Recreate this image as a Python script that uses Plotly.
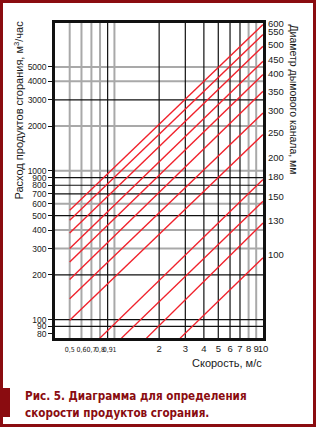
import plotly.graph_objects as go

# ---------------- data ----------------
# x axis (velocity, m/s)
x_small_vals = [0.5, 0.6, 0.7, 0.8, 0.9, 1]
x_small_text = ["0,5", "0,6", "0,7", "0,8", "0,9", "1"]
x_main_vals = [2, 3, 4, 5, 6, 7, 8, 9, 10]
x_main_text = ["2", "3", "4", "5", "6", "7", "8", "9", "10"]

# left y axis (flow of combustion products, m3/h)
y_tick_vals = [80, 90, 100, 200, 300, 400, 500, 600, 700, 800, 900,
               1000, 2000, 3000, 4000, 5000]

# grid lines
x_grid_black = [0.9, 2, 3, 4, 5, 6, 7]
x_grid_grey = [0.5, 0.6, 0.7, 0.8, 1, 8, 9]
y_grid_black = [90, 100, 200, 500, 700, 800, 900, 3000]
y_grid_grey = [300, 400, 600, 1000, 2000, 4000, 5000]

# diameter lines (mm): start (v0, q0) and end (v1, q1)
line_diam = [600, 550, 500, 450, 400, 350, 300, 250, 180, 150, 130, 100]
line_v0 = [0.5, 0.5, 0.5, 0.5, 0.5, 0.5, 0.5, 0.5, 0.797, 1.115, 1.643, 2.77]
line_q0 = [543, 465, 382, 301, 244, 186, 138, 99, 75, 75, 75, 75]
line_v1 = [10, 10, 10, 10, 10, 10, 10, 10, 10, 10, 10, 10]
line_q1 = [9636, 8254, 6887, 5458, 4442, 3430, 2449, 1754, 874, 625, 446, 260]

# right axis labels: chimney diameter, mm (placed at flow values)
diam_labels = [600, 550, 500, 450, 400, 350, 300, 250, 200, 180, 150, 130, 100]
diam_label_q = [9830, 8590, 7060, 5605, 4510, 3430, 2555, 1800, 1229, 920,
                667, 465, 271]

X_RANGE = [-0.4, 1.0]
Y_RANGE = [1.876, 3.994]
Y_MIN = 10 ** Y_RANGE[0]
Y_MAX = 10 ** Y_RANGE[1]
X_MIN = 10 ** X_RANGE[0]
X_MAX = 10 ** X_RANGE[1]

# ---------------- layout geometry ----------------
W, H = 316, 427
ML, MR, MT, MB = 55, 53, 23, 89
PW, PH = W - ML - MR, H - MT - MB


def px(x):
    return (x - ML) / PW


def py(y):
    return (H - MB - y) / PH


NARROW = "Liberation Sans Narrow, Arial Narrow, DejaVu Sans Condensed, sans-serif"
SANS = "Liberation Sans, Arial, sans-serif"
DARKRED = "#8a0c10"
GREY = "#a9a9a9"
BLACK = "#111111"
RED = "#f0222c"

fig = go.Figure()


def grid_trace(xs_v, ys_h, color, width):
    gx, gy = [], []
    for v in xs_v:
        gx += [v, v, None]
        gy += [Y_MIN, Y_MAX, None]
    for q in ys_h:
        gx += [X_MIN, X_MAX, None]
        gy += [q, q, None]
    return go.Scatter(x=gx, y=gy, mode="lines",
                      line=dict(color=color, width=width),
                      hoverinfo="skip", showlegend=False)


fig.add_trace(grid_trace(x_grid_grey, y_grid_grey, GREY, 2))
fig.add_trace(grid_trace(x_grid_black, y_grid_black, BLACK, 1.2))

for d, v0, q0, v1, q1 in zip(line_diam, line_v0, line_q0, line_v1, line_q1):
    fig.add_trace(go.Scatter(x=[v0, v1], y=[q0, q1], mode="lines",
                             line=dict(color=RED, width=1.4),
                             name=f"{d} мм", hoverinfo="skip",
                             showlegend=False))

# invisible trace to anchor right axis
fig.add_trace(go.Scatter(x=[1], y=[1000], yaxis="y2", mode="markers",
                         marker=dict(opacity=0, size=1), hoverinfo="skip",
                         showlegend=False))

x_tick_vals = x_small_vals + x_main_vals
x_tick_text = [f'<span style="font-family:{NARROW};font-size:7px">{t}</span>'
               for t in x_small_text] + x_main_text

fig.update_layout(
    width=W, height=H,
    margin=dict(l=ML, r=MR, t=MT, b=MB, pad=0),
    paper_bgcolor="white", plot_bgcolor="white",
    showlegend=False, hovermode=False,
    font=dict(family=SANS, color="#1a1a1a", size=9),
    xaxis=dict(type="log", range=X_RANGE, tickvals=x_tick_vals,
               ticktext=x_tick_text, tickangle=0, showgrid=False,
               zeroline=False, showline=True, mirror=True, linewidth=2.5,
               linecolor=BLACK, ticks="", tickfont=dict(size=9.5),
               ticklabelstandoff=0),
    yaxis=dict(type="log", range=Y_RANGE, tickvals=y_tick_vals,
               ticktext=[str(v) for v in y_tick_vals], showgrid=False,
               zeroline=False, showline=True, mirror=True, linewidth=2.5,
               linecolor=BLACK, ticks="outside", ticklen=4, tickwidth=1,
               tickcolor=BLACK, tickfont=dict(size=8.5)),
    yaxis2=dict(type="log", range=Y_RANGE, overlaying="y", side="right",
                tickvals=diam_label_q, ticktext=[str(v) for v in diam_labels],
                showgrid=False, zeroline=False, showline=False, ticks="",
                tickfont=dict(size=9.5), ticklabelstandoff=4),
)

annotations = [
    dict(text="Расход продуктов сгорания, м<sup>3</sup>/час", textangle=-90,
         x=px(18.5), y=py(110), xref="paper", yref="paper",
         xanchor="center", yanchor="middle", showarrow=False,
         font=dict(size=11, family=SANS, color="#1a1a1a")),
    dict(text="Диаметр дымового канала, мм", textangle=90,
         x=px(293.5), y=py(99), xref="paper", yref="paper",
         xanchor="center", yanchor="middle", showarrow=False,
         font=dict(size=10.5, family=SANS, color="#1a1a1a")),
    dict(text="Скорость, м/с", x=px(264), y=py(362.5), xref="paper",
         yref="paper", xanchor="right", yanchor="middle", showarrow=False,
         font=dict(size=11, family=SANS, color="#1a1a1a")),
    dict(text="<b>Рис. 5. Диаграмма для определения</b>", x=px(22.5),
         y=py(396), xref="paper", yref="paper", xanchor="left",
         yanchor="middle", showarrow=False,
         font=dict(size=11.6, family=NARROW, color=DARKRED)),
    dict(text="<b>скорости продуктов сгорания.</b>", x=px(22.5),
         y=py(412.5), xref="paper", yref="paper", xanchor="left",
         yanchor="middle", showarrow=False,
         font=dict(size=11.6, family=NARROW, color=DARKRED)),
]
fig.update_layout(annotations=annotations)

shapes = [
    dict(type="rect", xref="paper", yref="paper",
         x0=px(1.5), x1=px(W - 1.5), y0=py(H - 1.5), y1=py(1.5),
         line=dict(color=DARKRED, width=3), fillcolor="rgba(0,0,0,0)",
         layer="above"),
    dict(type="rect", xref="paper", yref="paper",
         x0=px(0), x1=px(10), y0=py(417), y1=py(388),
         line=dict(width=0), fillcolor=DARKRED, layer="above"),
]
fig.update_layout(shapes=shapes)

fig.write_html("out.html")
